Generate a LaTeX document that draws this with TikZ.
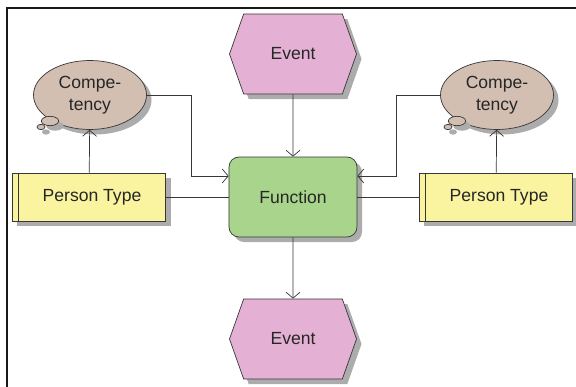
\documentclass[tikz,border=0pt]{standalone}
\usepackage{fontspec}
\setmainfont{Liberation Sans}
\usetikzlibrary{shapes.symbols,shapes.geometric,shadows,arrows.meta}
\definecolor{evtpink}{RGB}{228,177,212}
\definecolor{fnGreen}{RGB}{168,212,140}
\definecolor{compTaupe}{RGB}{211,190,178}
\definecolor{ptYellow}{RGB}{250,243,160}
\definecolor{lineGray}{RGB}{55,55,55}
\definecolor{shadowGray}{RGB}{172,172,172}
\begin{document}
\begin{tikzpicture}[x=0.03cm,y=-0.03cm]

    \tikzset{
      withshadow/.style={
        drop shadow={shadow xshift=0.15cm,shadow yshift=-0.15cm,
          fill=shadowGray,opacity=1},
      },
      box/.style={
        draw=lineGray,
        line width=0.6pt,
        text=black!85,
        font=\fontsize{15}{18.5}\selectfont,
        withshadow,
      },
      evt/.style={
        box,
        signal,
        signal to=west and east,
        signal pointer angle=141,
        fill=evtpink,
        minimum width=3.81cm,
        minimum height=2.4cm,
        inner sep=0pt,
      },
      func/.style={
        box,
        rounded corners=0.3cm,
        fill=fnGreen,
        minimum width=3.84cm,
        minimum height=2.4cm,
      },
      comp/.style={
        box,
        ellipse,
        fill=compTaupe,
        minimum width=3.39cm,
        minimum height=2.07cm,
        align=center,
        inner sep=0pt,
      },
      bubble/.style={
        draw=lineGray,
        line width=0.6pt,
        fill=compTaupe,
        withshadow,
      },
      ptype/.style={
        box,
        fill=ptYellow,
        minimum width=4.59cm,
        minimum height=1.44cm,
      },
      conn/.style={
        draw=lineGray,
        line width=0.6pt,
      },
      arr/.style={
        conn,
        -{Straight Barb[length=0.18cm,width=0.42cm]},
      },
    }
    \useasboundingbox (0,0) rectangle (576,387);
    \draw[line width=1.2pt,black!90] (7,387) -- (7,8) -- (576,8);

    \node[comp] (cpl) at (90,95) {Compe-\\tency};
    \node[comp] (cpr) at (497,95) {Compe-\\tency};
    \foreach \cx in {90,497}{
      \draw[bubble] (\cx-40,121) ellipse (0.26cm and 0.14cm);
      \draw[bubble] (\cx-49,127) ellipse (0.12cm and 0.08cm);
    }

    \node[evt] (evtop) at (293,54) {Event};
    \node[func] (fn) at (293,197) {Function};
    \node[evt] (evbot) at (293,339) {Event};

    \node[ptype] (ptl) at (89,197) {\hspace*{0.18cm}Person Type};
    \node[ptype] (ptr) at (496,197) {\hspace*{0.18cm}Person Type};
    \draw[conn] ([xshift=0.18cm]ptl.north west) -- ([xshift=0.18cm]ptl.south west);
    \draw[conn] ([xshift=0.18cm]ptr.north west) -- ([xshift=0.18cm]ptr.south west);

    \coordinate (jl) at (191,176);
    \coordinate (jr) at (396,176);

    \draw[arr] (evtop) -- (fn);
    \draw[arr] (fn) -- (evbot);
    \draw[arr] (ptl) -- (cpl);
    \draw[arr] (ptr) -- (cpr);
    \draw[conn] (ptl) -- (fn);
    \draw[conn] (ptr) -- (fn);
    \draw[arr] (cpl.east) -| (jl) -- (jl -| fn.west);
    \draw[arr] (cpr.west) -| (jr) -- (jr -| fn.east);

\end{tikzpicture}
\end{document}
